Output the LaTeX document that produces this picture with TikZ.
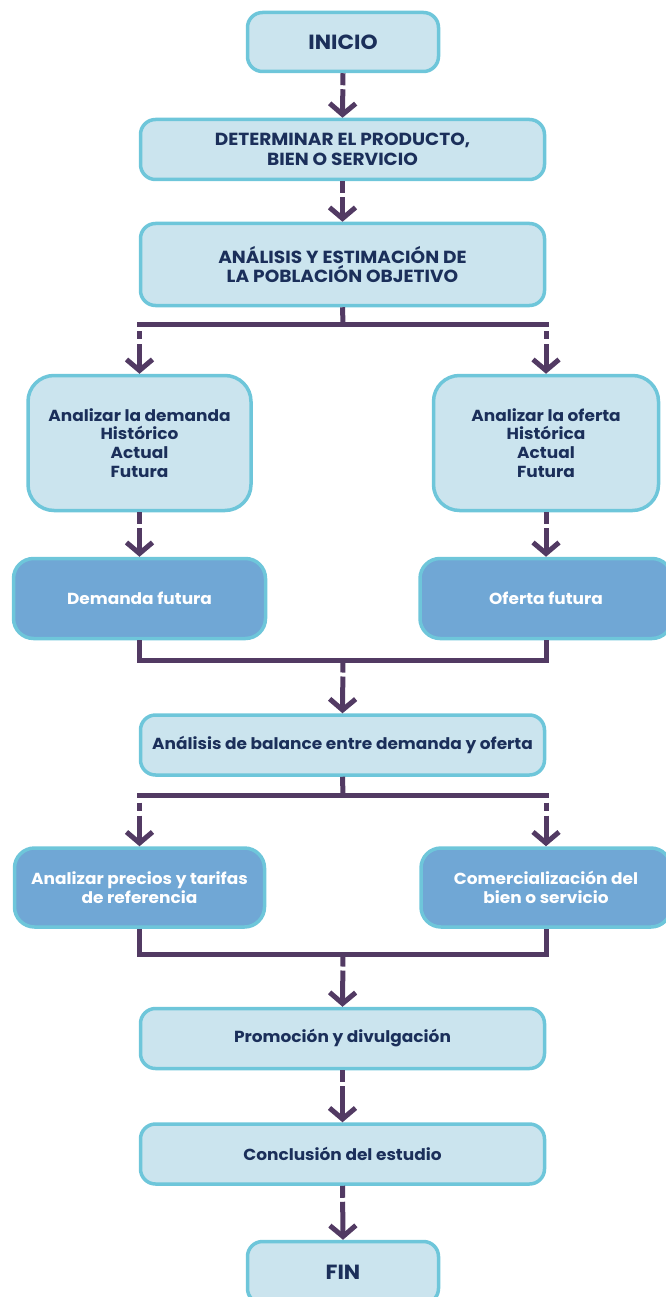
\documentclass[tikz,border=0pt]{standalone}
\usepackage{fontspec}
\setmainfont{Poppins}[FakeStretch=1.06]
\usetikzlibrary{arrows.meta}
\definecolor{lfill}{HTML}{CBE4EE}
\definecolor{dfill}{HTML}{70A7D5}
\definecolor{bord}{HTML}{6EC6DA}
\definecolor{lcol}{HTML}{523A63}
\definecolor{tcol}{HTML}{1B2F5A}
\tikzset{
  box/.style={draw=bord, line width=3.5pt, fill=lfill, rounded corners=15pt, align=center,
    text=tcol, font=\fontsize{16}{18.7}\selectfont\bfseries, inner sep=0pt},
  capbox/.style={box, font=\fontsize{17.5}{19.5}\selectfont\bfseries},
  bigbox/.style={box, rounded corners=26pt},
  dbox/.style={box, fill=dfill, text=white, rounded corners=20pt},
  endbox/.style={box, font=\fontsize{20.5}{24}\selectfont\bfseries},
  bus/.style={draw=lcol, line width=5pt, line join=miter},
  conn/.style={draw=lcol, line width=5pt, dash pattern=on 12pt off 4pt on 400pt off 1pt,
    -{Straight Barb[length=11pt, width=26pt, line join=miter, line cap=butt]}},
  drop/.style={conn, dash pattern=on 2.5pt off 4.5pt on 8pt off 5pt on 400pt off 1pt},
}
\begin{document}
\begin{tikzpicture}[x=1pt, y=-1pt]
\useasboundingbox (0,0) rectangle (665,1297);
\node[endbox, minimum width=191pt, minimum height=59pt] (inicio) at (343,42) {INICIO};
\node[capbox, minimum width=404pt, minimum height=60pt] (det) at (342.5,149.5) {DETERMINAR EL PRODUCTO,\\BIEN O SERVICIO};
\node[capbox, minimum width=404pt, minimum height=82pt] (ana) at (342.5,264.5) {ANÁLISIS Y ESTIMACIÓN DE\\LA POBLACIÓN OBJETIVO};
\node[bigbox, minimum width=223pt, minimum height=135pt] (dem) at (139.5,443) {Analizar la demanda\\Histórico\\Actual\\Futura};
\node[bigbox, minimum width=225pt, minimum height=135pt] (ofe) at (546,443) {Analizar la oferta\\Histórica\\Actual\\Futura};
\node[dbox, minimum width=252pt, minimum height=80pt] (demf) at (139.5,598.5) {Demanda futura};
\node[dbox, minimum width=252pt, minimum height=80pt] (ofef) at (546,598.5) {Oferta futura};
\node[box, minimum width=404pt, minimum height=60pt] (bal) at (342.5,745) {Análisis de balance entre demanda y oferta};
\node[dbox, minimum width=250pt, minimum height=79pt] (pre) at (139.5,887.5) {Analizar precios y tarifas\\de referencia};
\node[dbox, minimum width=250pt, minimum height=79pt] (com) at (546,887.5) {Comercialización del\\bien o servicio};
\node[box, minimum width=404pt, minimum height=60pt] (pro) at (342.5,1038.5) {Promoción y divulgación};
\node[box, minimum width=404pt, minimum height=60pt] (con) at (342.5,1154) {Conclusión del estudio};
\node[endbox, minimum width=191pt, minimum height=62pt] (fin) at (343,1272.5) {FIN};

\coordinate (b1) at (343,324);
\coordinate (b1l) at (137,324);
\coordinate (b1r) at (548.5,324);
\coordinate (m1) at (343,660.5);
\coordinate (b2) at (343,795.5);
\coordinate (b2l) at (137,795.5);
\coordinate (b2r) at (548.5,795.5);
\coordinate (m2) at (343,954.5);

\path[conn] (inicio.south) -- (det.north);
\path[conn] (det.south) -- (ana.north);
\path[bus] (ana.south) -- (b1);
\path[bus] (b1l) -- (b1r);
\path[drop] (dem.north |- b1) -- (dem.north);
\path[drop] (ofe.north |- b1) -- (ofe.north);
\path[conn] (dem.south) -- (demf.north);
\path[conn] (ofe.south) -- (ofef.north);
\path[bus] (demf.south) -- (demf.south |- m1) -- (ofef.south |- m1) -- (ofef.south);
\path[conn] (m1) -- (bal.north);
\path[bus] (bal.south) -- (b2);
\path[bus] (b2l) -- (b2r);
\path[drop] (pre.north |- b2) -- (pre.north);
\path[drop] (com.north |- b2) -- (com.north);
\path[bus] (pre.south) -- (pre.south |- m2) -- (com.south |- m2) -- (com.south);
\path[conn] (m2) -- (pro.north);
\path[conn] (pro.south) -- (con.north);
\path[conn] (con.south) -- (fin.north);
\end{tikzpicture}
\end{document}
